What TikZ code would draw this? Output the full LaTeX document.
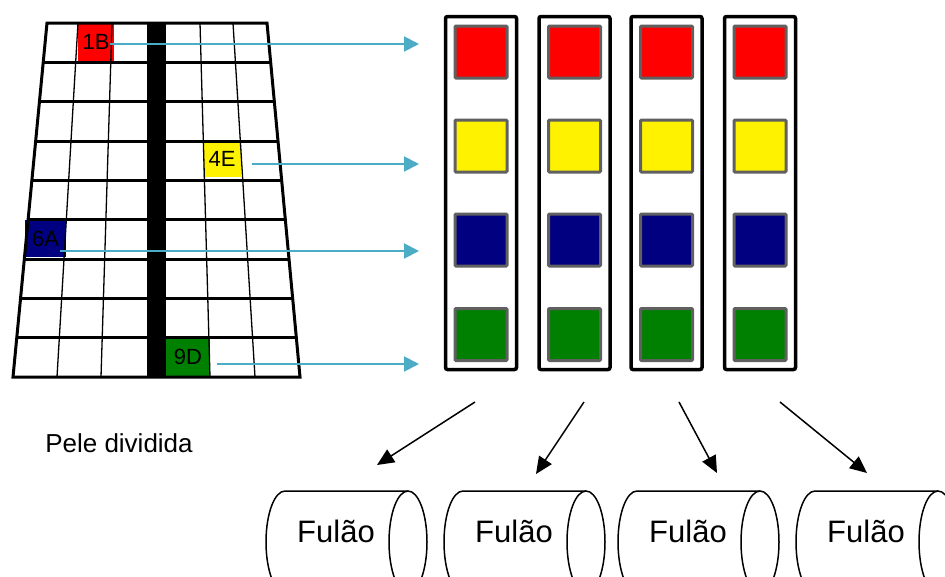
\documentclass[tikz,border=0pt]{standalone}
\usepackage{fontspec}
\setmainfont{Liberation Sans}
\usetikzlibrary{arrows.meta}
\definecolor{cyanline}{RGB}{75,172,198}
\definecolor{sqgray}{RGB}{96,96,96}
\definecolor{navyc}{RGB}{0,0,128}
\definecolor{greenc}{RGB}{0,128,0}
\begin{document}
\begin{tikzpicture}[x=1pt,y=-1pt,
  cellbox/.style={draw=none, inner sep=0pt, font=\fontsize{22}{24}\selectfont},
  stripbox/.style={draw=black, line width=3.5pt, rounded corners=2pt, minimum width=71pt, minimum height=353pt, inner sep=0pt},
  sqbox/.style={draw=sqgray, line width=3pt, rounded corners=1pt, minimum size=52pt, inner sep=0pt},
  cyanarrow/.style={draw=cyanline, line width=2pt, -{Triangle[length=15pt,width=15pt]}},
  blackarrow/.style={draw=black, line width=1.5pt, -{Triangle[length=17pt,width=15pt]}},
  cylline/.style={draw=black, line width=1.5pt},
  cyltext/.style={font=\fontsize{31}{36}\selectfont, inner sep=0pt},
  gridthick/.style={line width=3pt},
  gridthin/.style={line width=1.3pt}
]
\useasboundingbox (0,0) rectangle (945,576);
\clip (0,0) rectangle (945,576);
\fill[white] (0,0) rectangle (945,576);

% coloured cells
\node[cellbox, fill=red, minimum width=36pt, minimum height=38pt] (c1B) at (96,42) {1B};
\node[cellbox, fill=yellow, minimum width=38pt, minimum height=37pt] (c4E) at (222,158.5) {4E};
\node[cellbox, fill=navyc, minimum width=41pt, minimum height=37pt] (c6A) at (45.5,238.5) {6A};
\node[cellbox, fill=greenc, minimum width=44pt, minimum height=40pt] (c9D) at (188,357) {9D};

% grid
\draw[gridthin] (78,23) -- (57,377);
\draw[gridthin] (112,23) -- (101,377);
\draw[gridthin] (200,23) -- (210,377);
\draw[gridthin] (233,23) -- (255,377);
\fill[black] (147,23) rectangle (166,377);
\foreach \k in {1,...,8} {
  \pgfmathsetmacro\yy{23+\k*354/9}
  \pgfmathsetmacro\xl{47-34*\k/9}
  \pgfmathsetmacro\xr{267+33*\k/9}
  \draw[gridthick] (\xl,\yy) -- (\xr,\yy);
}
\draw[gridthick, line join=miter] (47,23) -- (267,23) -- (300,377) -- (13,377) -- cycle;

% strips
\foreach \i/\x in {1/481, 2/574.5, 3/666.5, 4/760} {
  \node[stripbox] (strip\i) at (\x,193) {};
  \node[sqbox, fill=red] (sqr\i) at (\x,52) {};
  \node[sqbox, fill=yellow] (sqy\i) at (\x,146) {};
  \node[sqbox, fill=navyc] (sqb\i) at (\x,240) {};
  \node[sqbox, fill=greenc] (sqg\i) at (\x,334.5) {};
}

% cyan arrows
\coordinate (s1) at (110,44);  \coordinate (e1) at (419,44);
\coordinate (s2) at (252,164); \coordinate (e2) at (419,164);
\coordinate (s3) at (60,251);  \coordinate (e3) at (419,251);
\coordinate (s4) at (217,364); \coordinate (e4) at (419,364);
\draw[cyanarrow] (s1) -- (e1);
\draw[cyanarrow] (s2) -- (e2);
\draw[cyanarrow] (s3) -- (e3);
\draw[cyanarrow] (s4) -- (e4);

% label
\node[font=\fontsize{26}{30}\selectfont, inner sep=0pt] (pele) at (119,443) {Pele dividida};

% cylinders
\foreach \i/\xl in {1/285, 2/463, 3/637, 4/815} {
  \pgfmathsetmacro\xr{\xl+123}
  \draw[cylline] (\xr,491) -- (\xl,491) arc[start angle=270, end angle=90, x radius=19, y radius=51] -- (\xr,593);
  \draw[cylline] (\xr,542) ellipse [x radius=19, y radius=51];
  \node[cyltext] (cyl\i) at (\xl+51,531) {Fulão};
}

% black arrows
\coordinate (a1) at (475,402); \coordinate (b1) at (377,465);
\coordinate (a2) at (584,402); \coordinate (b2) at (536,474);
\coordinate (a3) at (679,402); \coordinate (b3) at (717,473);
\coordinate (a4) at (780,402); \coordinate (b4) at (867,473);
\draw[blackarrow] (a1) -- (b1);
\draw[blackarrow] (a2) -- (b2);
\draw[blackarrow] (a3) -- (b3);
\draw[blackarrow] (a4) -- (b4);
\end{tikzpicture}
\end{document}
